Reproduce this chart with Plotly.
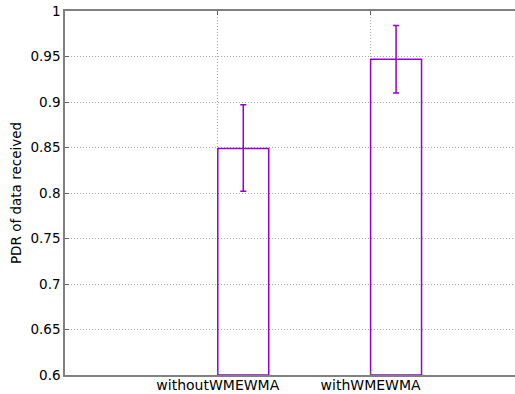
import plotly.graph_objects as go

# PDR results with and without the WMEWMA estimator
categories = ["withoutWMEWMA", "withWMEWMA"]
pdr_mean = [0.849, 0.947]
pdr_err_plus = [0.048, 0.037]
pdr_err_minus = [0.047, 0.037]
y_min, y_max = 0.6, 1.0
y_ticks = [0.6, 0.65, 0.7, 0.75, 0.8, 0.85, 0.9, 0.95, 1.0]
y_tick_text = ["0.6", "0.65", "0.7", "0.75", "0.8", "0.85", "0.9", "0.95", "1"]

violet = "#9400D3"
tick_pos = list(range(1, len(categories) + 1))
bar_width = 1 / 3
bar_x = [p + bar_width / 2 for p in tick_pos]

fig = go.Figure()
fig.add_trace(go.Bar(
    x=bar_x,
    y=[v - y_min for v in pdr_mean],
    base=y_min,
    width=bar_width,
    marker=dict(color="rgba(0,0,0,0)", line=dict(color=violet, width=1.5)),
    error_y=dict(type="data", symmetric=False, array=pdr_err_plus,
                 arrayminus=pdr_err_minus, color=violet, thickness=1.5, width=3),
    showlegend=False,
))

xfont = dict(family="DejaVu Sans", size=14, color="black")
yfont = dict(family="DejaVu Sans", size=13.5, color="black")
grid = dict(showgrid=True, gridcolor="#a8a8a8", griddash="1px,2px", gridwidth=1)
fig.update_layout(
    width=515, height=394,
    margin=dict(l=65, r=0, t=11, b=19),
    paper_bgcolor="white", plot_bgcolor="white",
    font=xfont,
    xaxis=dict(
        range=[0, 2.945],
        tickvals=tick_pos, ticktext=categories,
        showline=True, linecolor="#808080", linewidth=1.5, mirror="ticks",
        ticks="inside", ticklen=4, tickcolor="#606060",
        ticklabelstandoff=-4,
        zeroline=False, automargin=False, tickfont=xfont, **grid,
    ),
    yaxis=dict(
        range=[y_min, y_max],
        tickvals=y_ticks, ticktext=y_tick_text,
        showline=True, linecolor="#808080", linewidth=1.5,
        ticks="inside", ticklen=4, tickcolor="#606060",
        zeroline=False, automargin=False, tickfont=yfont,
        title=dict(text="PDR of data received", font=yfont, standoff=6),
        **grid,
    ),
)

fig.write_html("out.html")
